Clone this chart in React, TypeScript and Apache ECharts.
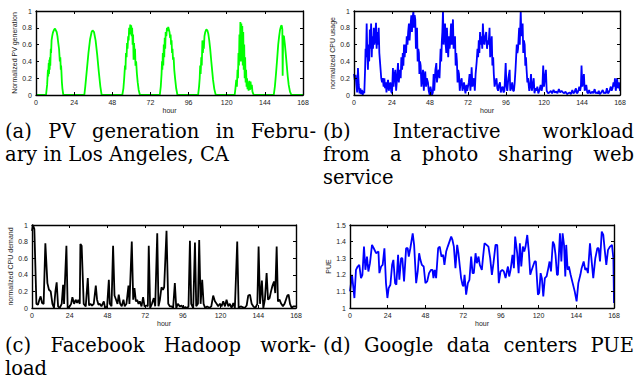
import React, { useEffect, useRef } from "react";
import * as echarts from "echarts";

// ---------- data ----------
const hourTicks = [0, 24, 48, 72, 96, 120, 144, 168];

// (a) PV generation [hour, normalized value]
const pvGeneration: number[][] = [
  [0, 0], [6.3, 0], [7, 0.12], [7.5, 0.3], [7.7, 0.22], [8, 0.38], [8.2, 0.25], [8.4, 0.42], [8.6, 0.3], [8.8, 0.45], [9, 0.35], [9.3, 0.55], [9.5, 0.5], [9.8, 0.65], [10.2, 0.7], [10.6, 0.74], [11, 0.76], [11.5, 0.78], [12, 0.79], [12.5, 0.77], [13, 0.75], [13.5, 0.7], [14, 0.62], [14.5, 0.55], [15, 0.4], [15.3, 0.45], [15.6, 0.3], [15.8, 0.35], [16, 0.28], [16.3, 0.15], [16.6, 0.08], [17.2, 0],
  [30.4, 0], [31, 0.1], [32, 0.3], [33, 0.5], [34, 0.66], [35, 0.75], [35.6, 0.77], [36.5, 0.75], [37.5, 0.65], [38.5, 0.48], [39.5, 0.28], [40.5, 0.1], [41.3, 0],
  [54.3, 0], [55, 0.08], [55.5, 0.2], [56, 0.35], [56.3, 0.3], [56.6, 0.5], [57, 0.45], [57.3, 0.62], [57.6, 0.55], [58, 0.7], [58.3, 0.65], [58.6, 0.8], [59, 0.72], [59.3, 0.84], [59.6, 0.75], [59.9, 0.83], [60.2, 0.7], [60.5, 0.8], [60.8, 0.6], [61.1, 0.72], [61.4, 0.42], [61.7, 0.62], [62, 0.5], [62.3, 0.55], [62.6, 0.35], [63, 0.4], [63.5, 0.25], [64, 0.15], [64.6, 0.06], [65.4, 0],
  [77.9, 0], [78.5, 0.1], [79, 0.25], [79.3, 0.4], [79.5, 0.3], [79.8, 0.5], [80.1, 0.35], [80.4, 0.6], [80.7, 0.45], [81, 0.68], [81.3, 0.55], [81.6, 0.75], [82, 0.7], [82.4, 0.8], [82.8, 0.76], [83.2, 0.81], [83.6, 0.78], [84, 0.75], [84.4, 0.68], [84.7, 0.72], [85, 0.6], [85.3, 0.65], [85.6, 0.5], [85.9, 0.55], [86.2, 0.42], [86.6, 0.45], [87, 0.3], [87.5, 0.2], [88.2, 0.08], [89, 0],
  [102, 0], [102.6, 0.1], [103, 0.2], [103.3, 0.35], [103.6, 0.25], [104, 0.45], [104.3, 0.35], [104.7, 0.65], [105, 0.5], [105.3, 0.6], [105.6, 0.55], [106, 0.7], [106.5, 0.75], [107.2, 0.78], [107.8, 0.77], [108.4, 0.73], [109, 0.65], [109.6, 0.55], [110.2, 0.42], [110.8, 0.3], [111.4, 0.18], [112.2, 0.07], [113.1, 0],
  [125, 0], [125.5, 0.08], [126, 0.18], [126.4, 0.1], [126.8, 0.3], [127.1, 0.2], [127.4, 0.5], [127.7, 0.35], [128, 0.72], [128.3, 0.55], [128.6, 0.87], [128.9, 0.4], [129.2, 0.85], [129.5, 0.5], [129.8, 0.82], [130.1, 0.35], [130.4, 0.75], [130.7, 0.3], [131, 0.6], [131.3, 0.2], [131.6, 0.45], [131.9, 0.15], [132.2, 0.3], [132.5, 0.1], [132.8, 0.2], [133.1, 0.07], [133.4, 0.15], [133.8, 0.05], [134.2, 0.17], [134.6, 0.06], [135, 0.16], [135.4, 0.07], [135.8, 0.12], [136.2, 0.04], [136.6, 0.02], [137, 0],
  [149.6, 0], [150.3, 0.1], [151, 0.25], [151.7, 0.42], [152.4, 0.6], [153, 0.7], [153.6, 0.78], [154.2, 0.82], [154.6, 0.83], [155, 0.78], [155.2, 0.23], [155.5, 0.7], [156, 0.7], [156.6, 0.6], [157.2, 0.48], [157.8, 0.35], [158.4, 0.22], [159, 0.12], [159.8, 0.04], [160.7, 0], [168, 0],
];

// (b) interactive workload CPU usage [hour, normalized value]
const cpuUsage: number[][] = [
  [0, 0.25], [0.5, 0.18], [1, 0.24], [1.5, 0.12], [2, 0.03], [2.5, 0.32], [3, 0.12], [3.5, 0.02], [4, 0.08], [4.5, 0.01], [5, 0.06], [5.5, 0], [6, 0.05], [6.5, 0.02], [7, 0.3], [7.3, 0.55], [7.6, 0.45], [8, 0.85], [8.4, 0.5], [8.8, 0.3], [9.2, 0.6], [9.6, 0.4], [10, 0.78], [10.4, 0.55], [10.8, 0.85], [11.2, 0.45], [11.6, 0.7], [12, 0.55], [12.5, 0.8], [12.9, 0.6], [13.4, 0.7], [13.9, 0.86], [14.3, 0.55], [14.8, 0.75], [15.2, 0.6], [15.6, 0.8], [16, 0.5], [16.4, 0.4], [16.8, 0.3], [17.2, 0.2], [17.7, 0.15], [18.2, 0.2], [18.7, 0.1], [19.2, 0.2], [19.6, 0.08], [20.1, 0.15], [20.5, 0.03], [21, 0.12], [21.5, 0.18], [22, 0.05], [22.5, 0.12], [23, 0.15], [23.5, 0.04], [24, 0.02],
  [24.6, 0.32], [25, 0.1], [25.5, 0.22], [26.1, 0.3], [26.6, 0.05], [27.2, 0.2], [27.8, 0.38], [28.3, 0.15], [28.7, 0.25], [29, 0.3], [29.5, 0.2], [29.9, 0.45], [30.4, 0.3], [30.8, 0.5], [31.2, 0.35], [31.6, 0.6], [32, 0.45], [32.5, 0.6], [32.9, 0.5], [33.3, 0.7], [33.8, 0.6], [34.2, 0.75], [34.7, 0.85], [35.1, 0.65], [35.6, 0.8], [36.2, 0.95], [36.6, 0.75], [37, 0.9], [37.5, 1.0], [37.9, 0.8], [38.3, 0.95], [38.7, 0.9], [39.1, 0.55], [39.4, 0.7], [39.8, 0.8], [40.2, 0.4], [40.6, 0.55], [41, 0.5], [41.3, 0.25], [41.7, 0.4], [42.1, 0.35], [42.6, 0.1], [43.1, 0.2], [43.6, 0.3], [44.1, 0.05], [44.5, 0.2], [45, 0.28], [45.5, 0.1], [46, 0.2], [46.7, 0.15], [47.2, 0.05], [47.8, 0],
  [48.3, 0.1], [48.8, 0.05], [49.3, 0], [49.8, 0.03], [50.3, 0.25], [50.7, 0.05], [51.4, 0.3], [52, 0.38], [52.4, 0.15], [52.9, 0.25], [53.5, 0.3], [54, 0.2], [54.4, 0.4], [54.7, 0.55], [55.1, 0.4], [55.5, 0.65], [55.8, 0.75], [56.2, 1.0], [56.6, 0.6], [57, 0.75], [57.5, 0.85], [57.9, 0.6], [58.3, 0.5], [58.7, 0.8], [59.1, 0.6], [59.5, 0.45], [60, 0.7], [60.4, 0.55], [60.8, 0.65], [61.3, 0.85], [61.7, 0.6], [62.1, 0.75], [62.5, 0.9], [62.9, 0.55], [63.3, 0.65], [63.8, 0.7], [64.2, 0.35], [64.6, 0.5], [65, 0.4], [65.4, 0.15], [65.8, 0.3], [66.3, 0.25], [66.8, 0.05], [67.3, 0.15], [68, 0.2], [68.5, 0.05], [69, 0.1], [69.5, 0.15], [69.9, 0.08], [70.4, 0.02], [71, 0.12], [71.5, 0.05],
  [72, 0.1], [72.5, 0.15], [73, 0.25], [73.5, 0.05], [73.9, 0.15], [74.3, 0.33], [74.8, 0.1], [75.3, 0.15], [75.8, 0.2], [76.3, 0.05], [76.8, 0.25], [77.5, 0.4], [78, 0.55], [78.4, 0.45], [78.8, 0.65], [79.2, 0.5], [79.6, 0.75], [80, 0.6], [80.5, 0.7], [81, 0.55], [81.4, 0.85], [81.9, 0.65], [82.4, 0.6], [82.9, 0.7], [83.5, 0.75], [84, 0.55], [84.5, 0.65], [85, 0.6], [85.6, 0.8], [86, 0.45], [86.5, 0.55], [87, 0.7], [87.4, 0.35], [87.9, 0.45], [88.3, 0.25], [88.8, 0.1], [89.3, 0.15], [90, 0.2], [90.5, 0.08], [91, 0.05], [91.6, 0.12], [92.2, 0.15], [92.7, 0.03], [93.3, 0.08], [93.9, 0.1], [94.4, 0.03], [95, 0.05], [95.8, 0.38],
  [96.3, 0.1], [96.8, 0.05], [97.5, 0.2], [98.3, 0.3], [98.7, 0.05], [99.3, 0.08], [99.9, 0.15], [100.5, 0.05], [101, 0.05], [101.5, 0.15], [102, 0.3], [102.4, 0.45], [102.8, 0.6], [103.2, 0.5], [103.6, 0.55], [104.3, 0.8], [104.7, 0.6], [105.3, 1.0], [105.7, 0.7], [106.1, 0.8], [106.5, 0.85], [106.9, 0.5], [107.3, 0.65], [107.8, 0.6], [108.2, 0.35], [108.6, 0.45], [109, 0.3], [109.5, 0.15], [109.9, 0.2], [110.3, 0.2], [110.7, 0.05], [111.2, 0.1], [111.8, 0.25], [112.3, 0.05], [112.8, 0.1], [113.5, 0.2], [114, 0.02], [114.6, 0.08], [115.2, 0.05], [115.8, 0.1], [116.4, 0.02], [117, 0.05], [117.9, 0.12], [118.5, 0.05], [119, 0.1], [119.5, 0.35],
  [120, 0.1], [120.6, 0.2], [121.2, 0.3], [121.7, 0.05], [122.6, 0.02], [123.4, 0.03], [124.3, 0.05], [125.1, 0.02], [126, 0.06], [126.8, 0.03], [127.7, 0.04], [128.5, 0.02], [129.4, 0.07], [130.2, 0.03], [131.1, 0.05], [132, 0.03], [132.8, 0.02], [133.6, 0.04], [134.5, 0.01], [135.3, 0.02], [136.2, 0.03], [137, 0.01], [137.9, 0.06], [138.5, 0.02], [139.2, 0.03], [139.7, 0.06], [140.2, 0.08], [140.7, 0.02], [141.3, 0.03], [141.8, 0.06], [142.3, 0.1], [142.8, 0.05], [143.3, 0.1], [143.7, 0.35],
  [144.2, 0.1], [144.7, 0.15], [145.2, 0.25], [145.7, 0.05], [146.2, 0.08], [146.7, 0.12], [147.3, 0.03], [148, 0.02], [148.5, 0.06], [149, 0.03], [149.6, 0.02], [150.3, 0.04], [151.1, 0.02], [152, 0.07], [152.6, 0.02], [153.3, 0.03], [154, 0.02], [154.6, 0.05], [155.2, 0.01], [155.8, 0.02], [156.4, 0.04], [157.1, 0.06], [157.7, 0.02], [158.4, 0.03], [159, 0.02], [159.7, 0.08], [160.3, 0.02], [160.9, 0.03], [161.5, 0.06], [162.2, 0.1], [162.7, 0.05], [163.3, 0.08], [163.9, 0.15], [164.4, 0.1], [164.8, 0.2], [165.3, 0.05], [165.8, 0.12], [166.2, 0.2], [166.7, 0.08], [167.3, 0.15], [168, 0.05],
];

// (c) Facebook Hadoop CPU demand [hour, normalized value]
const hadoopDemand: number[][] = [
  [0, 0.93], [0.6, 1.0], [1.5, 0.95], [2.8, 0.05], [3.8, 0.04], [4.7, 0.1], [5.5, 0.14], [6.4, 0.06], [7.4, 0.05], [8.5, 0.78], [9.8, 0.3], [10.8, 0.22], [11.9, 0.2], [13, 0.05], [14, 0], [14.9, 0.2], [15.7, 0.31], [16.6, 0.02], [17.6, 0], [18.9, 0.05], [19.8, 0.28], [20.4, 0.05], [21.9, 0.75], [22.7, 0],
  [24, 0.02], [24.9, 0.05], [25.7, 0.13], [26.8, 0.05], [27.8, 0.1], [28.7, 0.06], [29.5, 0.1], [30.4, 0.05], [30.8, 0.77], [31.6, 0.75], [32.9, 0.05], [34.2, 0.02], [35.5, 0.36], [36.3, 0.03], [37.2, 0.05], [38.2, 0.03], [39.3, 0.05], [40.6, 0.27], [41.4, 0.1], [42.3, 0.04], [43.1, 0.05], [44.2, 0.02], [45.7, 0.08], [46.5, 0], [47.8, 0.02],
  [48.9, 0.34], [49.5, 0.05], [50.6, 0.02], [51.6, 0.75], [52.5, 0.15], [53.5, 0.1], [54.4, 0.05], [55.2, 0.16], [56.1, 0.05], [57.1, 0.02], [58.2, 0.1], [59, 0.02], [60.1, 0.05], [61.4, 0.27], [62, 0.05], [63.5, 0.8], [64.4, 0.1], [65.2, 0.24], [66.1, 0.08], [66.9, 0.1], [67.8, 0.05], [68.6, 0.08], [69.7, 0.02], [70.7, 0.13], [71.6, 0.02],
  [72.9, 0.03], [73.7, 0.02], [74.3, 0.75], [75.2, 0], [76.3, 0.05], [77.5, 0.12], [78.4, 0.02], [79.7, 0.9], [80.5, 0.02], [81.4, 0.1], [82.4, 0.25], [83.3, 0.22], [84.1, 0.25], [85.6, 0.93], [86.7, 0.05], [87.7, 0.02], [88.8, 0.02], [89.8, 0], [90.9, 0.3], [91.8, 0], [92.8, 0.05], [94.1, 0.02], [95.2, 0.03],
  [96.2, 0], [97.5, 0.01], [98.8, 0], [99.6, 0.02], [100.5, 0.81], [101.3, 0.05], [102.6, 0], [103.7, 0.79], [104.5, 0.02], [105.6, 0.05], [106.4, 0.82], [107.3, 0.05], [108.3, 0.34], [109.2, 0.05], [110.2, 0], [111.5, 0.02], [112.8, 0], [114.1, 0.02], [115.3, 0.15], [116.4, 0.08], [117.5, 0.05], [118.5, 0.02], [119.6, 0.05],
  [120.6, 0.02], [121.7, 0.08], [122.8, 0.02], [123.8, 0.1], [124.9, 0.02], [125.9, 0.05], [127, 0], [128.1, 0.06], [129.1, 0], [130.6, 0.8], [131.5, 0], [132.8, 0.02], [134, 0.01], [135.3, 0], [136.6, 0.03], [137.6, 0.15], [138.7, 0.16], [139.8, 0.05], [140.8, 0.02], [142.1, 0], [143.4, 0.05],
  [144.2, 0.74], [145.1, 0.05], [146.3, 0.33], [147.2, 0], [148.2, 0.1], [149.3, 0.42], [150.2, 0.1], [151.2, 0.12], [152.1, 0.2], [152.9, 0.26], [154, 0.32], [154.8, 0.18], [155.7, 0.74], [156.5, 0.08], [157.5, 0.1], [158.6, 0.05], [159.7, 0.02], [160.7, 0.05], [161.6, 0.1], [162.5, 0.15], [163.3, 0.16], [164.2, 0.05], [165.3, 0], [166.3, 0.02], [168, 0.02],
];

// (d) Google data centers PUE [hour, PUE]
const pue: number[][] = [
  [0, 1.1], [1.3, 1.2], [2.8, 1.06], [3.8, 1.23], [4.9, 1.25], [5.9, 1.26], [7, 1.18], [7.9, 1.2], [8.9, 1.37], [9.8, 1.23], [10.8, 1.31], [11.7, 1.22], [12.7, 1.27], [14, 1.38], [15.1, 1.36], [16.6, 1.33], [18.1, 1.34], [18.7, 1.21], [19.8, 1.25], [20.8, 1.26], [21.9, 1.36], [22.9, 1.15], [23.8, 1.06],
  [24.6, 1.12], [25.7, 1.14], [26.8, 1.26], [27.6, 1.29], [28.7, 1.15], [29.5, 1.14], [30.6, 1.32], [31.4, 1.17], [32.5, 1.3], [33.3, 1.3], [34.4, 1.16], [35.7, 1.36], [36.7, 1.36], [37.4, 1.31], [38.4, 1.36], [39.9, 1.45], [40.8, 1.38], [42.1, 1.15], [43.1, 1.22], [44, 1.33], [44.8, 1.29], [45.7, 1.26], [46.9, 1.25],
  [48, 1.15], [49.1, 1.16], [50.3, 1.21], [51.6, 1.23], [52.5, 1.23], [53.1, 1.18], [53.9, 1.23], [54.8, 1.18], [56.1, 1.36], [57.1, 1.37], [58.2, 1.31], [59.3, 1.32], [60.1, 1.26], [61.2, 1.34], [62.2, 1.37], [63.3, 1.4], [64.4, 1.43], [65.2, 1.41], [66.1, 1.37], [67.1, 1.24], [68.2, 1.38], [69, 1.33], [69.9, 1.25], [70.7, 1.18], [71.6, 1.14],
  [72.2, 1.13], [72.9, 1.2], [73.9, 1.08], [75, 1.15], [76, 1.17], [77.1, 1.31], [78, 1.21], [78.8, 1.21], [79.9, 1.33], [80.7, 1.27], [81.8, 1.31], [82.6, 1.26], [83.9, 1.23], [84.7, 1.31], [85.6, 1.39], [86.9, 1.38], [88.1, 1.37], [89.2, 1.3], [90.3, 1.2], [91.3, 1.27], [92.6, 1.38], [93.7, 1.38], [94.7, 1.15], [95.8, 1.22],
  [96.9, 1.23], [97.9, 1.22], [99, 1.18], [99.8, 1.22], [100.5, 1.25], [101.3, 1.19], [102.2, 1.23], [103.4, 1.32], [104.3, 1.24], [105.1, 1.43], [106.4, 1.33], [107.3, 1.21], [108.1, 1.39], [109, 1.25], [110, 1.37], [110.9, 1.34], [111.7, 1.37], [112.8, 1.44], [113.8, 1.34], [114.7, 1.2], [115.3, 1.22], [116.4, 1.25], [117.5, 1.28], [118.3, 1.28], [119.6, 1.08],
  [120.4, 1.09], [121.3, 1.21], [122.1, 1.18], [123, 1.07], [124, 1.18], [125.1, 1.19], [126.2, 1.24], [127, 1.28], [127.9, 1.22], [129.1, 1.4], [130, 1.38], [130.8, 1.32], [131.7, 1.2], [132.3, 1.2], [133.6, 1.45], [134.5, 1.28], [135.3, 1.45], [136.2, 1.38], [137, 1.19], [137.6, 1.38], [138.5, 1.23], [139.3, 1.25], [140.4, 1.2], [141.7, 1.15], [143, 1.1],
  [144.2, 1.04], [145.3, 1.15], [146.6, 1.2], [147.4, 1.24], [148.7, 1.28], [149.7, 1.23], [150.6, 1.24], [151.4, 1.21], [152.7, 1.39], [153.6, 1.3], [154.8, 1.18], [156.1, 1.3], [157.4, 1.36], [158.2, 1.36], [159.1, 1.28], [160.2, 1.46], [161.2, 1.44], [162.1, 1.35], [163.1, 1.26], [164.2, 1.35], [165.5, 1.37], [166.7, 1.38], [167.6, 1.3], [168, 1.03],
];

const seriesData = [pvGeneration, cpuUsage, hadoopDemand, pue];
const seriesColors = ["#00ff00", "#0000ff", "#000000", "#0000ff"];
const yAxisNames = ["Normalized PV generation", "normalized CPU usage", "normalized CPU demand", "PUE"];
const yMins = [0, 0, 0, 1];
const yMaxs = [1, 1, 1, 1.5];
const yIntervals = [0.2, 0.2, 0.2, 0.1];
const xAxisName = "hour";

// captions: each line = words; justified lines are spread across the column
const captionLines = [
  [{ words: ["(a)", "PV", "generation", "in", "Febru-"], justify: true }, { words: ["ary", "in", "Los", "Angeles,", "CA"], justify: false }],
  [{ words: ["(b)", "Interactive", "workload"], justify: true }, { words: ["from", "a", "photo", "sharing", "web"], justify: true }, { words: ["service"], justify: false }],
  [{ words: ["(c)", "Facebook", "Hadoop", "work-"], justify: true }, { words: ["load"], justify: false }],
  [{ words: ["(d)", "Google", "data", "centers", "PUE"], justify: true }],
];

// ---------- layout ----------
const W = 638;
const H = 382;
const grids = [
  { left: 36, top: 11, width: 267, height: 84 },
  { left: 354, top: 11, width: 266, height: 84 },
  { left: 32, top: 225, width: 264, height: 83 },
  { left: 350, top: 225, width: 264, height: 83 },
];
const captionBoxes = [
  { x0: 5, x1: 316, y: 131, lh: 23 },
  { x0: 323, x1: 634, y: 131, lh: 23 },
  { x0: 5, x1: 316, y: 345, lh: 23 },
  { x0: 323, x1: 634, y: 345, lh: 23 },
];
const CAP_FONT_SIZE = 19.5;
const CAP_FAMILY = "DejaVu Serif";
const AX_FONT = "Liberation Sans";

export default function App() {
  const ref = useRef<HTMLDivElement>(null);

  useEffect(() => {
    if (!ref.current) return;
    const chart = echarts.init(ref.current, undefined, { renderer: "svg" });

    const canvas = document.createElement("canvas");
    const ctx = canvas.getContext("2d")!;
    ctx.font = `${CAP_FONT_SIZE}px "${CAP_FAMILY}"`;
    const spaceW = ctx.measureText(" ").width;

    const graphics: any[] = [];
    captionLines.forEach((lines, ci) => {
      const box = captionBoxes[ci];
      lines.forEach((line, li) => {
        const y = box.y + li * box.lh;
        const widths = line.words.map((w) => ctx.measureText(w).width);
        const total = widths.reduce((a, b) => a + b, 0);
        const gap = line.justify && line.words.length > 1
          ? (box.x1 - box.x0 - total) / (line.words.length - 1)
          : spaceW;
        let x = box.x0;
        line.words.forEach((w, wi) => {
          graphics.push({
            type: "text",
            x,
            y,
            style: {
              text: w,
              fontSize: CAP_FONT_SIZE,
              fontFamily: CAP_FAMILY,
              fill: "#000",
              textAlign: "left",
              align: "left",
              textVerticalAlign: "middle",
              verticalAlign: "middle",
            },
          });
          x += widths[wi] + gap;
        });
      });
    });

    const axisLineStyle = { color: "#000", width: 1.4 };
    const tick = { show: true, inside: true, length: 3, lineStyle: { color: "#000", width: 1 } };

    const xAxes: any[] = [];
    const yAxes: any[] = [];
    grids.forEach((_, i) => {
      xAxes.push({
        type: "value",
        gridIndex: i,
        position: "bottom",
        min: hourTicks[0],
        max: hourTicks[hourTicks.length - 1],
        interval: 24,
        z: 5,
        axisLine: { show: true, onZero: false, lineStyle: axisLineStyle },
        axisTick: tick,
        splitLine: { show: false },
        axisLabel: { fontSize: 7, color: "#222", fontFamily: AX_FONT, margin: 4 },
        name: xAxisName,
        nameLocation: "middle",
        nameGap: i < 2 ? 11 : 12,
        nameTextStyle: { fontSize: 7, color: "#222", fontFamily: AX_FONT },
      });
      yAxes.push({
        type: "value",
        gridIndex: i,
        position: "left",
        min: yMins[i],
        max: yMaxs[i],
        interval: yIntervals[i],
        z: 5,
        axisLine: { show: true, onZero: false, lineStyle: axisLineStyle },
        axisTick: tick,
        splitLine: { show: false },
        axisLabel: { fontSize: 7, color: "#222", fontFamily: AX_FONT, margin: 4 },
        name: yAxisNames[i],
        nameLocation: "middle",
        nameGap: 17,
        nameTextStyle: { fontSize: 7, color: "#222", fontFamily: AX_FONT },
      });
    });
    grids.forEach((_, i) => {
      xAxes.push({
        type: "value",
        gridIndex: i,
        position: "top",
        min: hourTicks[0],
        max: hourTicks[hourTicks.length - 1],
        interval: 24,
        z: 5,
        axisLine: { show: true, onZero: false, lineStyle: axisLineStyle },
        axisTick: tick,
        splitLine: { show: false },
        axisLabel: { show: false },
      });
      yAxes.push({
        type: "value",
        gridIndex: i,
        position: "right",
        min: yMins[i],
        max: yMaxs[i],
        interval: yIntervals[i],
        z: 5,
        axisLine: { show: true, onZero: false, lineStyle: axisLineStyle },
        axisTick: tick,
        splitLine: { show: false },
        axisLabel: { show: false },
      });
    });

    chart.setOption({
      animation: false,
      backgroundColor: "#fff",
      grid: grids.map((g) => ({ ...g, containLabel: false, outerBoundsMode: "none" })),
      xAxis: xAxes,
      yAxis: yAxes,
      series: seriesData.map((d, i) => ({
        type: "line",
        xAxisIndex: i,
        yAxisIndex: i,
        data: d,
        symbol: "none",
        showSymbol: false,
        clip: true,
        z: 2,
        lineStyle: { color: seriesColors[i], width: 1.8 },
      })),
      graphic: graphics,
    });

    return () => chart.dispose();
  }, []);

  return (
    <div
      ref={ref}
      style={{ position: "fixed", left: 0, top: 0, width: W, height: H, background: "#fff" }}
    />
  );
}
